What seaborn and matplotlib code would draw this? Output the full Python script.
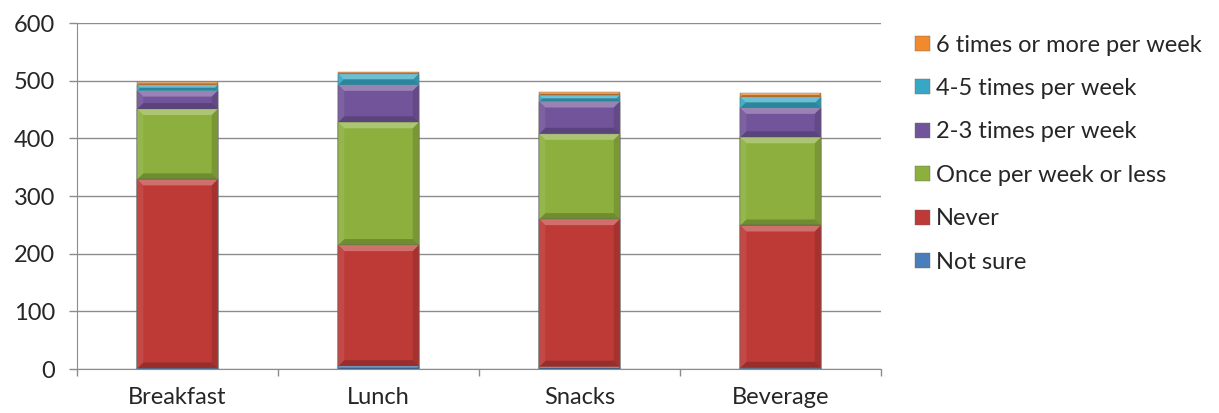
import numpy as np
import pandas as pd
import matplotlib
matplotlib.use("Agg")
import matplotlib.pyplot as plt
from matplotlib.patches import Patch, Polygon
import seaborn as sns

categories = ["Breakfast", "Lunch", "Snacks", "Beverage"]
series_names = ["Not sure", "Never", "Once per week or less",
                "2-3 times per week", "4-5 times per week", "6 times or more per week"]
not_sure = [1, 5, 4, 2]
never = [328, 210, 256, 247]
once_or_less = [122, 213, 148, 153]
two_three = [32, 65, 56, 51]
four_five = [10, 19, 11, 19]
six_plus = [5, 4, 5, 7]
y_ticks = [0, 100, 200, 300, 400, 500, 600]

colors = ["#4A7EBB", "#BE3A37", "#8CAF3E", "#72549A", "#36A7C4", "#F08A2C"]

values = [not_sure, never, once_or_less, two_three, four_five, six_plus]
df = pd.DataFrame({"category": categories})
cum = np.zeros(len(categories))
cum_cols = []
for name, vals in zip(series_names, values):
    cum = cum + np.array(vals, dtype=float)
    df[name] = cum
    cum_cols.append(name)

sns.set_style("white")
plt.rcParams["font.family"] = ["Lato", "DejaVu Sans"]

fig = plt.figure(figsize=(12.19, 4.13), dpi=100)
ax = fig.add_axes([0.0632, 0.1065, 0.6596, 0.8375])
ax.set_ylim(0, 600)
ax.set_xlim(-0.5, len(categories) - 0.5)

# stacked bars: draw cumulative totals from the top series down
segments = {}
for idx in reversed(range(len(cum_cols))):
    name = cum_cols[idx]
    n_before = len(ax.patches)
    sns.barplot(data=df, x="category", y=name, color=colors[idx], width=0.4,
                saturation=1, edgecolor="#6a6a6a", linewidth=0.3, ax=ax, zorder=3)
    segments[idx] = ax.patches[n_before:]

ax.set_ylim(0, 600)
ax.set_xlim(-0.5, len(categories) - 0.5)


def bevel(ax, x0, x1, y0, y1, px=6):
    """Soft bevelled edges on one stacked segment."""
    to_disp = ax.transData
    to_data = ax.transData.inverted()
    (dx0, dy0) = to_disp.transform((x0, y0))
    (dx1, dy1) = to_disp.transform((x1, y1))
    d = min(px, (dy1 - dy0) / 2.0, (dx1 - dx0) / 2.0)
    if d <= 0.3:
        return
    pts = {
        "top": [(dx0, dy1), (dx1, dy1), (dx1 - d, dy1 - d), (dx0 + d, dy1 - d)],
        "bottom": [(dx0, dy0), (dx1, dy0), (dx1 - d, dy0 + d), (dx0 + d, dy0 + d)],
        "left": [(dx0, dy0), (dx0, dy1), (dx0 + d, dy1 - d), (dx0 + d, dy0 + d)],
        "right": [(dx1, dy0), (dx1, dy1), (dx1 - d, dy1 - d), (dx1 - d, dy0 + d)],
    }
    shade = {"top": ("white", 0.28), "bottom": ("black", 0.2),
             "left": ("white", 0.08), "right": ("black", 0.13)}
    for side, poly in pts.items():
        data_pts = to_data.transform(poly)
        col, a = shade[side]
        ax.add_patch(Polygon(data_pts, closed=True, facecolor=col, alpha=a,
                             edgecolor="none", zorder=4))


fig.canvas.draw()
for idx in range(len(cum_cols)):
    tops = df[cum_cols[idx]].to_numpy()
    bottoms = df[cum_cols[idx - 1]].to_numpy() if idx > 0 else np.zeros(len(categories))
    for j, p in enumerate(segments[idx]):
        bevel(ax, p.get_x(), p.get_x() + p.get_width(), bottoms[j], tops[j])

ax.set_yticks(y_ticks)
ax.yaxis.grid(True, color="#8c8c8c", linewidth=1.0, zorder=0)
ax.set_axisbelow(True)
ax.set_xlabel("")
ax.set_ylabel("")

for side in ["top", "right"]:
    ax.spines[side].set_visible(False)
ax.spines["left"].set_color("#8c8c8c")
ax.spines["bottom"].set_color("#8c8c8c")

ax.tick_params(axis="y", length=6, width=1, color="#8c8c8c", labelsize=17, pad=10, left=True)
ax.tick_params(axis="x", which="major", length=0, labelsize=17, pad=13)
ax.set_xticks(np.arange(-0.5, len(categories)), minor=True)
ax.tick_params(axis="x", which="minor", length=5, width=1, color="#8c8c8c", bottom=True)

handles = [Patch(facecolor=c, edgecolor="#6a6a6a", linewidth=0.3) for c in colors]
leg = fig.legend(handles[::-1], series_names[::-1], loc="upper left",
                 bbox_to_anchor=(0.743, 0.939), frameon=False, fontsize=17,
                 handlelength=0.64, handleheight=0.6, handletextpad=0.25,
                 labelspacing=0.95, borderaxespad=0)

fig.savefig("out.png", dpi=100)
